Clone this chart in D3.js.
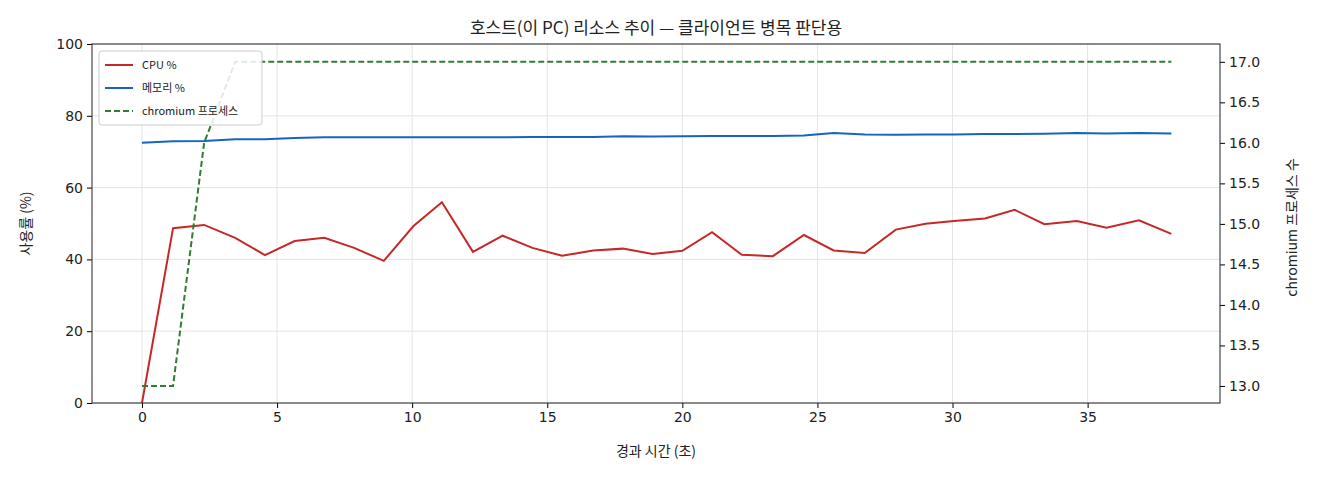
<!DOCTYPE html>
<html><head><meta charset="utf-8">
<script src="https://cdn.jsdelivr.net/npm/d3@7"></script>
<style>body{margin:0;background:#fff;font-family:"Noto Sans CJK KR","DejaVu Sans",sans-serif}</style>
</head><body><div id="graphic"></div>
<script>
// 데이터
var times = [0,1.15,2.3,3.45,4.55,5.65,6.75,7.85,8.95,10.05,11.1,12.25,13.35,14.45,15.55,16.7,17.8,18.9,20,21.1,22.2,23.35,24.5,25.6,26.75,27.9,29,30.05,31.2,32.3,33.4,34.6,35.7,36.9,38.1];
var cpu = [0,48.7,49.6,46,41.2,45.1,46,43.2,39.6,49.3,55.9,42.1,46.6,43.2,41,42.5,43,41.5,42.4,47.6,41.3,40.9,46.8,42.5,41.8,48.3,49.9,50.7,51.4,53.8,49.8,50.7,48.8,50.9,47.1];
var mem = [72.5,72.9,73,73.5,73.5,73.8,74,74,74,74,74,74,74,74.1,74.1,74.1,74.3,74.2,74.3,74.4,74.4,74.4,74.5,75.2,74.8,74.7,74.8,74.8,74.9,74.9,75,75.2,75.1,75.2,75.1];
var procs = [13,13,16,17,17,17,17,17,17,17,17,17,17,17,17,17,17,17,17,17,17,17,17,17,17,17,17,17,17,17,17,17,17,17,17];
var xTicks = [0,5,10,15,20,25,30,35];
var yTicks = [0,20,40,60,80,100];
var y2Ticks = [13,13.5,14,14.5,15,15.5,16,16.5,17];

var W = 1320, H = 480, L = 92, R = 1220, T = 44, B = 403;
var svg = d3.select("#graphic").append("svg").attr("width", W).attr("height", H);

var x = d3.scaleLinear().domain([-1.85, 39.9]).range([L, R]);
var y = d3.scaleLinear().domain([0, 100]).range([B, T]);
var y2 = d3.scaleLinear().domain([12.79, 17.22]).range([B, T]);

// 그리드
svg.append("g").selectAll("line").data(xTicks).join("line")
  .attr("x1", d => x(d)).attr("x2", d => x(d)).attr("y1", T).attr("y2", B)
  .attr("stroke", "#e4e4e4");
svg.append("g").selectAll("line").data(yTicks).join("line")
  .attr("y1", d => y(d)).attr("y2", d => y(d)).attr("x1", L).attr("x2", R)
  .attr("stroke", "#e4e4e4");

function styleAxis(g) {
  g.selectAll("text").attr("font-size", 14).attr("fill", "#222").attr("font-family", "DejaVu Sans");
  g.select(".domain").remove();
}
svg.append("g").attr("transform", `translate(0,${B})`)
  .call(d3.axisBottom(x).tickValues(xTicks).tickSize(5).tickPadding(4)).call(styleAxis);
svg.append("g").attr("transform", `translate(${L},0)`)
  .call(d3.axisLeft(y).tickValues(yTicks).tickSize(5).tickPadding(4)).call(styleAxis);
svg.append("g").attr("transform", `translate(${R},0)`)
  .call(d3.axisRight(y2).tickValues(y2Ticks).tickFormat(d3.format(".1f")).tickSize(5).tickPadding(4)).call(styleAxis);

var clip = svg.append("clipPath").attr("id", "c").append("rect")
  .attr("x", L).attr("y", T).attr("width", R - L).attr("height", B - T);
var plot = svg.append("g").attr("clip-path", "url(#c)");

var line = d3.line().x((d, i) => x(times[i]));
plot.append("path").datum(cpu).attr("d", line.y(d => y(d))).attr("fill", "none")
  .attr("stroke", "#c62828").attr("stroke-width", 2);
plot.append("path").datum(mem).attr("d", line.y(d => y(d))).attr("fill", "none")
  .attr("stroke", "#1565c0").attr("stroke-width", 2);
plot.append("path").datum(procs).attr("d", line.y(d => y2(d))).attr("fill", "none")
  .attr("stroke", "#2e7d32").attr("stroke-width", 2).attr("stroke-dasharray", "6,3");

svg.append("rect").attr("x", L).attr("y", T).attr("width", R - L).attr("height", B - T)
  .attr("fill", "none").attr("stroke", "#222");

// 텍스트
svg.append("text").attr("x", (L + R) / 2).attr("y", 34).attr("text-anchor", "middle")
  .attr("font-size", 17).attr("fill", "#222").text("호스트(이 PC) 리소스 추이 — 클라이언트 병목 판단용");
svg.append("text").attr("x", (L + R) / 2).attr("y", 456).attr("text-anchor", "middle")
  .attr("font-size", 14).attr("fill", "#222").text("경과 시간 (초)");
svg.append("text").attr("transform", `translate(31,${(T + B) / 2}) rotate(-90)`).attr("text-anchor", "middle")
  .attr("font-size", 14).attr("fill", "#222").text("사용률 (%)");
svg.append("text").attr("transform", `translate(1297,${(T + B) / 2 + 4}) rotate(-90)`).attr("text-anchor", "middle")
  .attr("font-size", 14).attr("fill", "#222").text("chromium 프로세스 수");

// 범례
var leg = svg.append("g").attr("transform", "translate(99,51)");
leg.append("rect").attr("width", 163).attr("height", 74).attr("rx", 3)
  .attr("fill", "#fff").attr("fill-opacity", 0.85).attr("stroke", "#ccc");
var items = [["CPU %", "#c62828", null], ["메모리 %", "#1565c0", null], ["chromium 프로세스", "#2e7d32", "6,3"]];
items.forEach(function(it, i) {
  var yy = 14 + i * 23;
  leg.append("line").attr("x1", 6).attr("x2", 34).attr("y1", yy).attr("y2", yy)
    .attr("stroke", it[1]).attr("stroke-width", 2).attr("stroke-dasharray", it[2]);
  leg.append("text").attr("x", 43).attr("y", yy + 4).attr("font-size", 11).attr("fill", "#222").text(it[0]);
});
</script></body></html>
